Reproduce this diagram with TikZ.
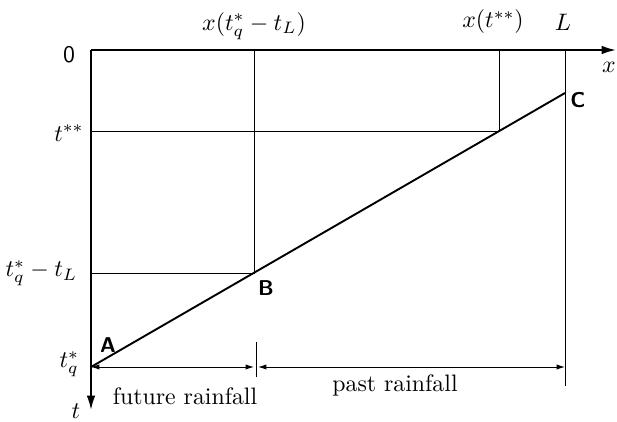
\documentclass[tikz,border=0pt]{standalone}
\usepackage{amsmath,amssymb}
\usepackage{tikz}
\usetikzlibrary{calc}
\usetikzlibrary{positioning}
\usetikzlibrary{arrows.meta}

\begin{document}
\begin{tikzpicture}[
    x=0.42pt, y=-0.42pt,
    axis/.style={thick, black, -{Latex[length=6pt,width=3.6pt]}},
    guide/.style={thin, black},
    ray/.style={thick, black},
    dim/.style={thin, black, {Latex[length=3.5pt,width=2.2pt]}-{Latex[length=3.5pt,width=2.2pt]}},
    pnt/.style={font=\small\sffamily\bfseries, inner sep=1pt},
    lab/.style={inner sep=1pt}
]
    \useasboundingbox (0,0) rectangle (617,421);

    % --- axes
    \coordinate (O)    at (91,50);
    \coordinate (Xend) at (616,50);
    \coordinate (Tend) at (91,410);
    \draw[axis] (O) -- (Xend);
    \draw[axis] (O) -- (Tend);

    % --- characteristic line A -- B -- C
    \coordinate (A) at (91,367);
    \coordinate (B) at (254,273);
    \coordinate (C) at (565,93);
    \coordinate (D) at (499,131);
    \draw[ray] (A) -- (C);

    % --- guide lines
    \coordinate (Bx) at (254,50);
    \coordinate (Bt) at (91,273);
    \coordinate (Dx) at (499,50);
    \coordinate (Dt) at (91,131);
    \coordinate (Lx) at (565,50);
    \coordinate (Lb) at (565,386);
    \draw[guide] (Bx) -- (B) -- (Bt);
    \draw[guide] (Dx) -- (D) -- (Dt);
    \draw[guide] (Lx) -- (Lb);

    % --- rainfall spans
    \coordinate (Mt) at (256,342);
    \coordinate (Mb) at (256,377);
    \coordinate (Ml) at (254,367);
    \coordinate (Mr) at (258,367);
    \coordinate (Re) at (565,367);
    \draw[guide] (Mt) -- (Mb);
    \draw[dim] (A) -- (Ml);
    \draw[dim] (Mr) -- (Re);

    % --- labels
    \node[lab, font=\sffamily] (zero) at (69,55) {0};
    \node[lab] (tss)  at (69,133) {$t^{**}$};
    \node[lab, anchor=east] (tqL) at (80,273) {$t_q^*-t_L$};
    \node[lab, anchor=east] (tq)  at (82,364) {$t_q^*$};
    \node[lab] (tlab) at (76,411) {$t$};
    \node[lab] (xB)   at (254,26) {$x(t_q^*-t_L)$};
    \node[lab] (xD)   at (493,22) {$x(t^{**})$};
    \node[lab] (Llab) at (563,22) {$L$};
    \node[lab] (xlab) at (609,67) {$x$};
    \node[pnt] (Alab) at (108,345) {A};
    \node[pnt] (Blab) at (266,288) {B};
    \node[pnt] (Clab) at (578,100) {C};
    \node[lab] (fut)  at (185,396) {future rainfall};
    \node[lab] (past) at (395,385) {past rainfall};

\end{tikzpicture}
\end{document}
